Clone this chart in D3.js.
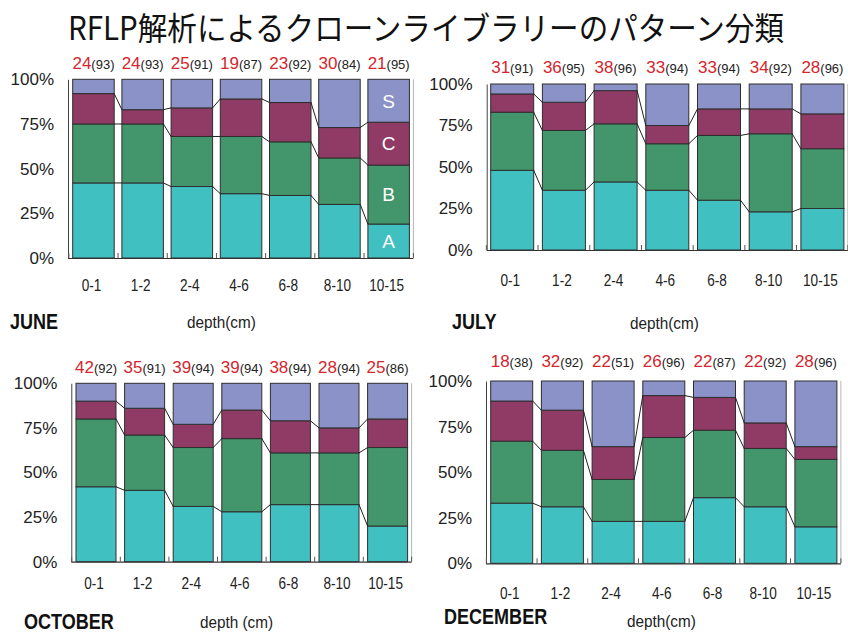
<!DOCTYPE html>
<html>
<head>
<meta charset="utf-8">
<script src="https://cdn.jsdelivr.net/npm/d3@7"></script>
<style>
  html, body { margin: 0; padding: 0; background: #fff; }
  svg { display: block; }
</style>
</head>
<body>
<svg id="chart" width="848" height="632"></svg>
<script>
// Depth intervals (cm) and pattern classes
const depths = ["0-1", "1-2", "2-4", "4-6", "6-8", "8-10", "10-15"];
const classes = ["A", "B", "C", "S"];
const yTicks = [0, 25, 50, 75, 100];

// Share of each pattern class (%) per depth
const juneA = [42, 42, 40, 36, 35, 30, 19];
const juneB = [33, 33, 28, 32, 30, 26, 33];
const juneC = [17, 8, 16, 21, 22, 17, 24];
const juneS = [8, 17, 16, 11, 13, 27, 24];
const juneTypes = [24, 24, 25, 19, 23, 30, 21];
const juneClones = [93, 93, 91, 87, 92, 84, 95];

const julyA = [48, 36, 41, 36, 30, 23, 25];
const julyB = [35, 36, 35, 28, 39, 47, 36];
const julyC = [11, 17, 20, 11, 16, 15, 21];
const julyS = [6, 11, 4, 25, 15, 15, 18];
const julyTypes = [31, 36, 38, 33, 33, 34, 28];
const julyClones = [91, 95, 96, 94, 94, 92, 96];

const octA = [42, 40, 31, 28, 32, 32, 20];
const octB = [38, 31, 33, 41, 29, 29, 44];
const octC = [10, 15, 13, 16, 18, 14, 16];
const octS = [10, 14, 23, 15, 21, 25, 20];
const octTypes = [42, 35, 39, 39, 38, 28, 25];
const octClones = [92, 91, 94, 94, 94, 94, 86];

const decA = [33, 31, 23, 23, 36, 31, 20];
const decB = [34, 31, 23, 46, 37, 32, 37];
const decC = [22, 22, 18, 23, 18, 14, 7];
const decS = [11, 16, 36, 8, 9, 23, 36];
const decTypes = [18, 32, 22, 26, 22, 22, 28];
const decClones = [38, 92, 51, 96, 87, 92, 96];

const colors = { A: "#40c0c0", B: "#43966b", C: "#903a66", S: "#8b92c7" };

function rows(a, b, c, s) {
  return depths.map((d, i) => ({ depth: d, A: a[i], B: b[i], C: c[i], S: s[i] }));
}

// Layout of the four panels
const panels = [
  { name: "JUNE", data: rows(juneA, juneB, juneC, juneS), types: juneTypes, clones: juneClones,
    axisX: 68, x0: 72.7, step: 49.2, bw: 41.5, yTop: 79.3, yBot: 258,
    topY: 69, tickY: 291, nameX: 10, nameY: 329, depthX: 187, depthY: 328,
    depthText: "depth(cm)", segLabels: true },
  { name: "JULY", data: rows(julyA, julyB, julyC, julyS), types: julyTypes, clones: julyClones,
    axisX: 486.7, x0: 490.7, step: 51.7, bw: 43, yTop: 84, yBot: 250,
    topY: 73, tickY: 286, nameX: 452, nameY: 329, depthX: 630, depthY: 329,
    depthText: "depth(cm)" },
  { name: "OCTOBER", data: rows(octA, octB, octC, octS), types: octTypes, clones: octClones,
    axisX: 71.3, x0: 76, step: 48.6, bw: 40, yTop: 383.3, yBot: 561.7,
    topY: 373, tickY: 589, nameX: 24, nameY: 629, depthX: 200, depthY: 628,
    depthText: "depth (cm)" },
  { name: "DECEMBER", data: rows(decA, decB, decC, decS), types: decTypes, clones: decClones,
    axisX: 486, x0: 490.7, step: 50.7, bw: 42, yTop: 381, yBot: 563.3,
    topY: 367, tickY: 599, nameX: 444, nameY: 624, depthX: 627, depthY: 627,
    depthText: "depth(cm)" }
];

const svg = d3.select("#chart");
const sans = "'Liberation Sans', Arial, sans-serif";

// Title
svg.append("text")
  .attr("x", 68).attr("y", 40)
  .attr("textLength", 716).attr("lengthAdjust", "spacingAndGlyphs")
  .attr("font-family", "'Noto Sans CJK JP', sans-serif")
  .attr("font-size", 32)
  .attr("fill", "#111")
  .text("RFLP解析によるクローンライブラリーのパターン分類");

const stack = d3.stack().keys(classes);

// Horizontally compressed text placed at (x, y)
function narrowText(sel, x, y, k) {
  return sel.append("text")
    .attr("transform", `translate(${x},${y}) scale(${k},1)`)
    .attr("font-family", sans);
}

panels.forEach(p => {
  const g = svg.append("g");
  const gap = p.step - p.bw;
  const x = d3.scaleBand()
    .domain(depths)
    .range([p.x0, p.x0 + 6 * p.step + p.bw])
    .paddingInner(gap / p.step)
    .paddingOuter(0);
  const y = d3.scaleLinear().domain([0, 100]).range([p.yBot, p.yTop]);
  const series = stack(p.data);

  // Stacked bars
  series.forEach(s => {
    g.append("g").selectAll("rect")
      .data(s)
      .join("rect")
      .attr("x", d => x(d.data.depth))
      .attr("y", d => y(d[1]))
      .attr("width", x.bandwidth())
      .attr("height", d => y(d[0]) - y(d[1]))
      .attr("fill", colors[s.key])
      .attr("stroke", "#2e2e2e")
      .attr("stroke-width", 1);
  });

  // Connector lines between the class boundaries of neighbouring bars
  series.slice(0, 3).forEach(s => {
    g.append("g").selectAll("line")
      .data(d3.pairs(s))
      .join("line")
      .attr("x1", d => x(d[0].data.depth) + x.bandwidth())
      .attr("y1", d => y(d[0][1]))
      .attr("x2", d => x(d[1].data.depth))
      .attr("y2", d => y(d[1][1]))
      .attr("stroke", "#222")
      .attr("stroke-width", 1);
  });

  // Class labels inside the last bar
  if (p.segLabels) {
    const last = depths.length - 1;
    series.forEach(s => {
      const d = s[last];
      g.append("text")
        .attr("x", x(depths[last]) + x.bandwidth() / 2)
        .attr("y", y((d[0] + d[1]) / 2))
        .attr("dy", "0.36em")
        .attr("text-anchor", "middle")
        .attr("font-family", sans)
        .attr("font-size", 19)
        .attr("fill", "#fff")
        .text(s.key);
    });
  }

  // Right edge line
  const xEnd = x.range()[1] + 4;
  g.append("line")
    .attr("x1", xEnd).attr("x2", xEnd)
    .attr("y1", p.yTop).attr("y2", p.yBot)
    .attr("stroke", "#b5b5b5").attr("stroke-width", 1);

  // Y axis
  const yAxis = d3.axisLeft(y)
    .tickValues(yTicks)
    .tickFormat(d => d + "%")
    .tickSize(0)
    .tickPadding(14);
  const ya = g.append("g")
    .attr("transform", `translate(${p.axisX},0)`)
    .call(yAxis);
  ya.select(".domain").attr("stroke", "#444");
  ya.selectAll("text")
    .attr("font-family", sans)
    .attr("font-size", 17)
    .attr("fill", "#222");

  // X axis baseline with small ticks in the gaps between bars
  g.append("line")
    .attr("x1", p.axisX).attr("x2", xEnd)
    .attr("y1", p.yBot + 0.5).attr("y2", p.yBot + 0.5)
    .attr("stroke", "#333").attr("stroke-width", 1.2);
  g.append("g").selectAll("line")
    .data(depths.map(d => x(d) - gap / 2).concat([xEnd]))
    .join("line")
    .attr("x1", d => d).attr("x2", d => d)
    .attr("y1", p.yBot).attr("y2", p.yBot - 5)
    .attr("stroke", "#555").attr("stroke-width", 1);

  // Depth tick labels
  depths.forEach(d => {
    narrowText(g, x(d) + x.bandwidth() / 2 - 2, p.tickY, 0.85)
      .attr("text-anchor", "middle")
      .attr("font-size", 16)
      .attr("fill", "#222")
      .text(d);
  });

  // Number of types (red) and clones (parentheses) above each bar
  const lab = g.append("g").selectAll("text")
    .data(depths)
    .join("text")
    .attr("x", d => x(d) + x.bandwidth() / 2)
    .attr("y", p.topY)
    .attr("text-anchor", "middle")
    .attr("font-family", sans);
  lab.append("tspan")
    .attr("font-size", 17)
    .attr("fill", "#d3262e")
    .text((d, i) => p.types[i]);
  lab.append("tspan")
    .attr("font-size", 13)
    .attr("fill", "#222")
    .text((d, i) => "(" + p.clones[i] + ")");

  // Month and axis title
  narrowText(g, p.nameX, p.nameY, 0.82)
    .attr("font-weight", "bold")
    .attr("font-size", 22)
    .attr("fill", "#111")
    .text(p.name);
  narrowText(g, p.depthX, p.depthY, 0.9)
    .attr("font-size", 17)
    .attr("fill", "#222")
    .text(p.depthText);
});
</script>
</body>
</html>
